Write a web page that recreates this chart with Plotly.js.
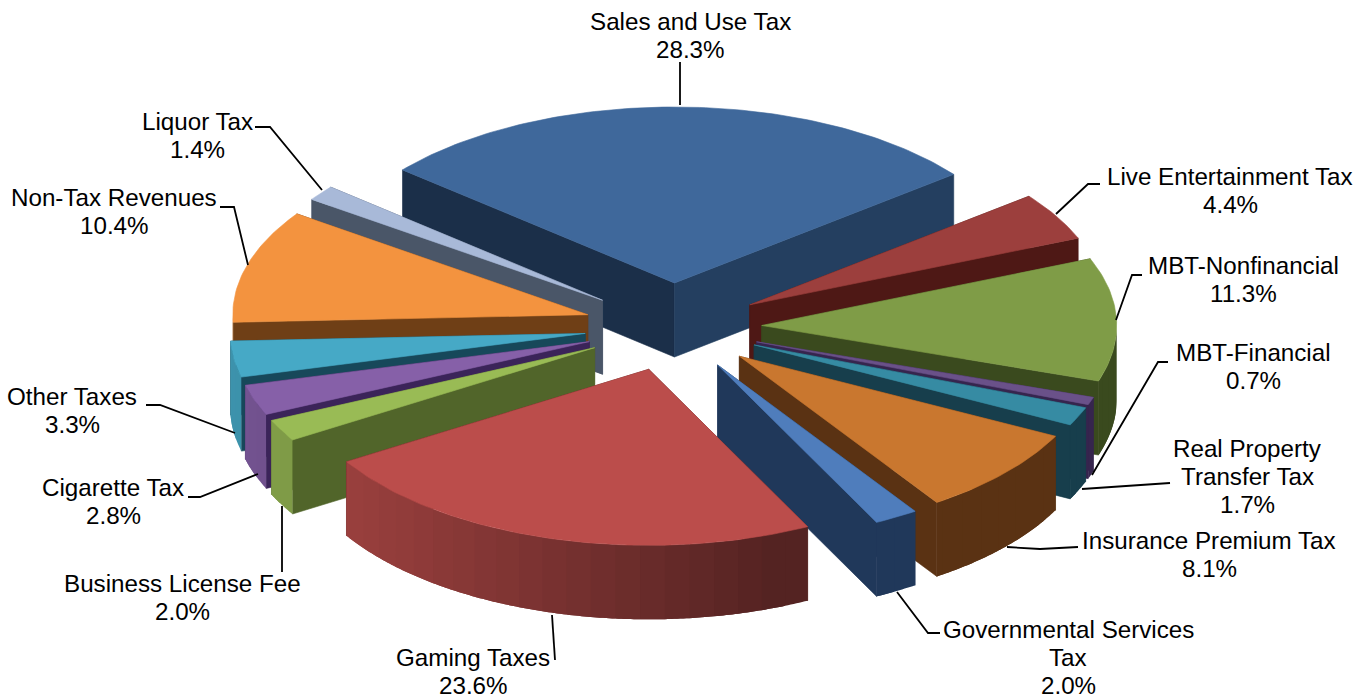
<!DOCTYPE html>
<html><head><meta charset="utf-8">
<script src="https://cdn.plot.ly/plotly-3.0.1.min.js"></script>
<style>html,body{margin:0;padding:0;background:#fff}#c{width:1365px;height:700px}</style>
</head><body><div id="c"></div>
<script>
// Data
const categories = ["Sales and Use Tax","Live Entertainment Tax","MBT-Nonfinancial","MBT-Financial","Real Property Transfer Tax","Insurance Premium Tax","Governmental Services Tax","Gaming Taxes","Business License Fee","Cigarette Tax","Other Taxes","Non-Tax Revenues","Liquor Tax"];
const shares = [28.3,4.4,11.3,0.7,1.7,8.1,2.0,23.6,2.0,2.8,3.3,10.4,1.4];

// Styles
const topColors  = ["#3F689B","#9C3F3D","#7F9C47","#6A5189","#368BA3","#C9772F","#4F7DBC","#BB4D4B","#99BB55","#8660A8","#46A9C6","#F3933F","#A8B9D8"];
const faceColors = ["#1B2F49","#4E1815","#3A4A1E","#36254E","#173E4C","#5A3213","#20385A","#521E1A","#51652A","#3B2459","#17485A","#6F3F16","#4A5668"];
const endFaceSales = "#243F60";

// Pie geometry
const cx=673, cy=327, rx=355, ry=176, depth=74, explode=0.25, startDeg=-50;
const rad=d=>d*Math.PI/180;
const px=(a,r)=>Math.sin(rad(a))*rx*r;
const py=(a,r)=>-Math.cos(rad(a))*ry*r;

function shade(hex,f){
  const n=parseInt(hex.slice(1),16);
  const c=[n>>16&255,n>>8&255,n&255].map(v=>Math.round(v*f));
  return `rgb(${c[0]},${c[1]},${c[2]})`;
}
const poly=(xs,ys,color,lw)=>({type:"scatter",mode:lw?"lines":"none",x:xs,y:ys,fill:"toself",fillcolor:color,
  line:{color:color,width:lw||0},hoverinfo:"skip",showlegend:false});

const total=shares.reduce((a,b)=>a+b,0);
let acc=startDeg;
const slices=shares.map((v,i)=>{
  const a0=acc, a1=acc+v/total*360; acc=a1;
  const mid=(a0+a1)/2;
  return {i,a0,a1,mid,ax:cx+px(mid,explode),ay:cy+py(mid,explode)};
});
const order=[...slices].sort((p,q)=>Math.cos(rad(q.mid))-Math.cos(rad(p.mid)));

const traces=[];
function radial(s,a,color){
  const ex=s.ax+px(a,1), ey=s.ay+py(a,1);
  traces.push(poly([s.ax,ex,ex,s.ax,s.ax],[s.ay,ey,ey+depth,s.ay+depth,s.ay],color,0.6));
}
const wallAt=(s,a)=>s.mid<150?faceColors[s.i]:shade(topColors[s.i],Math.min(0.9,Math.max(0.45,0.56-0.31*Math.sin(rad(a)))));
for(const s of order){
  const top=topColors[s.i], face=faceColors[s.i];
  const startVisible=Math.sin(rad(s.a0))<0, endVisible=Math.sin(rad(s.a1))>0;
  const endColor=s.i===0?endFaceSales:face;
  if(!startVisible) radial(s,s.a0,face);
  if(!endVisible) radial(s,s.a1,face);
  if(startVisible) radial(s,s.a0,face);
  if(endVisible) radial(s,s.a1,endColor);
  // outer wall, front half only: overlapping bands, each covering to the slice's far end
  const step=4;
  const from=Math.max(s.a0,90), to=Math.min(s.a1,270);
  for(let a=from;a<to-1e-6;a+=step){
    const xs=[],ys=[];
    const last=Math.min(a+step*2,to);
    for(let t=a;;t+=0.5){const u=Math.min(t,last);xs.push(s.ax+px(u,1));ys.push(s.ay+py(u,1));if(t>=last)break;}
    for(let k=xs.length-1;k>=0;k--){xs.push(xs[k]);ys.push(ys[k]+depth);}
    xs.push(xs[0]);ys.push(ys[0]);
    traces.push(poly(xs,ys,wallAt(s,a+step/2)));
  }
  // top face
  const xs=[s.ax], ys=[s.ay];
  for(let a=s.a0;;a+=1){
    const t=Math.min(a,s.a1);
    xs.push(s.ax+px(t,1)); ys.push(s.ay+py(t,1));
    if(a>=s.a1) break;
  }
  xs.push(s.ax); ys.push(s.ay);
  traces.push(poly(xs,ys,top,0.6));
}

// Leader lines and label placement
const leaders=[
 [[680,62],[680,105]],
 [[255,127],[270,127],[322,190]],
 [[1100,184],[1088,184],[1056,214]],
 [[220,207],[234,207],[248,265]],
 [[1142,275],[1132,275],[1116,320]],
 [[1168,362],[1158,362],[1092,475]],
 [[1170,483],[1082,489]],
 [[1078,547],[1040,549],[1007,547]],
 [[940,633],[928,633],[897,592]],
 [[555,660],[552,615]],
 [[282,572],[282,506]],
 [[188,497],[200,497],[258,474]],
 [[146,405],[160,405],[235,433]]
];
for(const l of leaders){
  traces.push({type:"scatter",mode:"lines",x:l.map(p=>p[0]),y:l.map(p=>p[1]),
    line:{color:"#000",width:1.8},hoverinfo:"skip",showlegend:false});
}
const labelLines=[
 [["Sales and Use Tax"],690,21],
 [["Live Entertainment Tax"],1230,176],
 [["MBT-Nonfinancial"],1243,265],
 [["MBT-Financial"],1253,352],
 [["Real Property","Transfer Tax"],1247,448],
 [["Insurance Premium Tax"],1209,540],
 [["Governmental Services","Tax"],1068,629],
 [["Gaming Taxes"],473,657],
 [["Business License Fee"],182,583],
 [["Cigarette Tax"],113,487],
 [["Other Taxes"],72,396],
 [["Non-Tax Revenues"],114,197],
 [["Liquor Tax"],197,121]
];
const annotations=[];
labelLines.forEach((l,i)=>{
  const lines=[...l[0],shares[i].toFixed(1)+"%"];
  lines.forEach((t,k)=>annotations.push({x:l[1],y:l[2]+k*28,xref:"x",yref:"y",text:t,showarrow:false,
    xanchor:"center",yanchor:"middle",font:{family:"Liberation Sans, Arial, sans-serif",size:24.2,color:"#000"}}));
});

const axis={visible:false,showgrid:false,zeroline:false,fixedrange:true};
Plotly.newPlot("c",traces,{
  width:1365,height:700,margin:{l:0,r:0,t:0,b:0},paper_bgcolor:"#fff",plot_bgcolor:"#fff",showlegend:false,
  xaxis:{...axis,range:[0,1365]},yaxis:{...axis,range:[700,0]},annotations
},{displayModeBar:false,staticPlot:true});
</script></body></html>
